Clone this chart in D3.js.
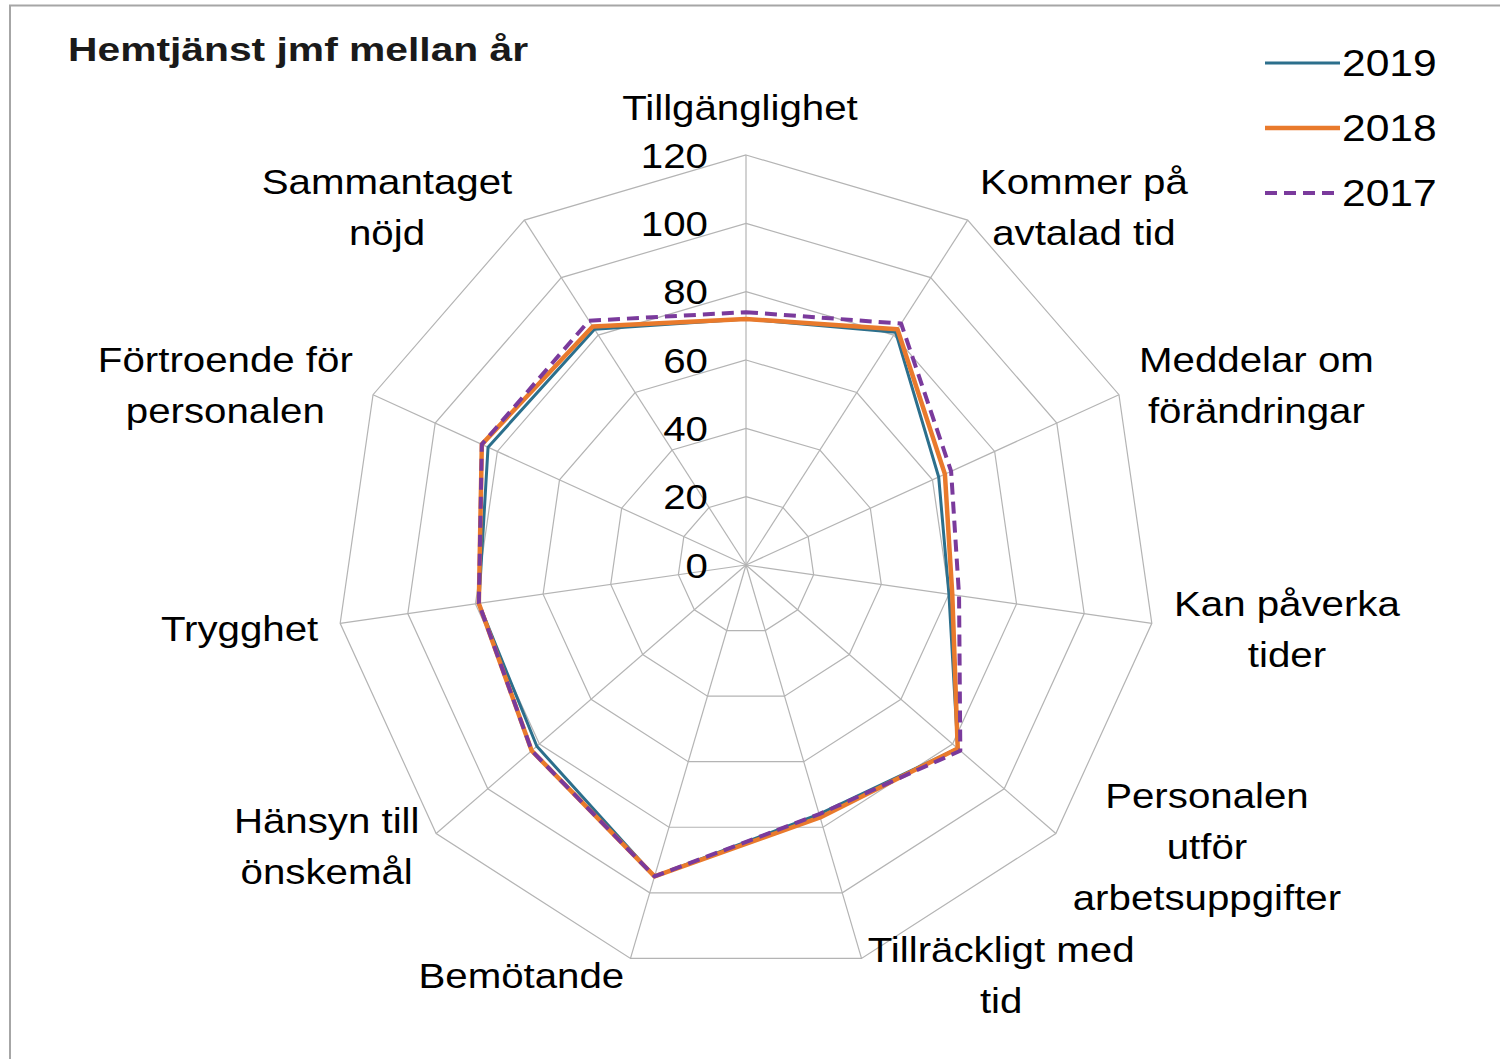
<!DOCTYPE html>
<html>
<head>
<meta charset="utf-8">
<script src="https://cdn.jsdelivr.net/npm/d3@7"></script>
<style>
  html, body { margin: 0; padding: 0; background: #fff; }
  svg text { font-family: "Liberation Sans", Arial, sans-serif; fill: #000; }
</style>
</head>
<body>
<div id="chart"></div>
<script>
const WIDTH = 1500, HEIGHT = 1059;
const CX = 746, CY = 565, RADIUS = 410; // plot centre and outer ring
const SX = 1.15; // the original's text renders wider than Liberation Sans

// categories, clockwise from the top
const categories = [
  "Tillgänglighet",
  "Kommer på|avtalad tid",
  "Meddelar om|förändringar",
  "Kan påverka|tider",
  "Personalen|utför|arbetsuppgifter",
  "Tillräckligt med|tid",
  "Bemötande",
  "Hänsyn till|önskemål",
  "Trygghet",
  "Förtroende för|personalen",
  "Sammantaget|nöjd"
];

const years = ["2019", "2018", "2017"];
const values2019 = [72, 81, 62, 60, 82, 76, 95, 81, 79, 83, 82];
const values2018 = [72, 82, 64, 61, 82, 77, 95, 83, 79, 85, 83];
const values2017 = [74, 84, 66, 63, 83, 76, 95, 83, 79, 85, 85];
const tickValues = [0, 20, 40, 60, 80, 100, 120];

const colors = {"2019": "#2c6f8c", "2018": "#e97a2c", "2017": "#7a3a9c"};
const widths = {"2019": 3, "2018": 4.5, "2017": 4};
const dashes = {"2019": null, "2018": null, "2017": "12,7"};

const r = d3.scaleLinear().domain([0, 120]).range([0, RADIUS]);
const angle = d3.scalePoint() // angle per category, clockwise from top
        .domain(d3.range(categories.length))
        .range([0, 2 * Math.PI * (categories.length - 1) / categories.length]);

const pt = (i, v) => [CX + r(v) * Math.sin(angle(i)), CY - r(v) * Math.cos(angle(i))];

const svg = d3.select("#chart").append("svg")
        .attr("width", WIDTH)
        .attr("height", HEIGHT);

// frame
svg.append("rect")
    .attr("x", 10).attr("y", 5.5)
    .attr("width", WIDTH).attr("height", HEIGHT)
    .attr("fill", "none")
    .attr("stroke", "#a6a6a6")
    .attr("stroke-width", 2);

const grid = svg.append("g").attr("class", "grid");

// rings
grid.selectAll(".ring")
    .data(tickValues.filter(d => d > 0))
    .enter().append("polygon")
    .attr("points", v => categories.map((c, i) => pt(i, v).join(",")).join(" "))
    .attr("fill", "none")
    .attr("stroke", "#b4b4b4")
    .attr("stroke-width", 1.2);

// spokes
grid.selectAll(".spoke")
    .data(categories)
    .enter().append("line")
    .attr("x1", CX).attr("y1", CY)
    .attr("x2", (d, i) => pt(i, 120)[0])
    .attr("y2", (d, i) => pt(i, 120)[1])
    .attr("stroke", "#b4b4b4")
    .attr("stroke-width", 1.2);

// tick labels along the top spoke
svg.append("g").selectAll("g")
    .data(tickValues)
    .enter().append("g")
    .attr("transform", d => `translate(${CX - 38},${CY - r(d)}) scale(${SX},1)`)
    .append("text")
    .attr("dy", "0.36em")
    .attr("text-anchor", "end")
    .style("font-size", "35px")
    .text(d => d);

// series, 2019 underneath, 2017 on top
const line = d3.lineRadial()
        .angle((d, i) => angle(i))
        .radius(d => r(d))
        .curve(d3.curveLinearClosed);

const seriesValues = {"2019": values2019, "2018": values2018, "2017": values2017};

svg.append("g")
    .attr("transform", `translate(${CX},${CY})`)
    .selectAll("path")
    .data(years)
    .enter().append("path")
    .attr("d", y => line(seriesValues[y]))
    .attr("fill", "none")
    .attr("stroke", y => colors[y])
    .attr("stroke-width", y => widths[y])
    .attr("stroke-dasharray", y => dashes[y])
    .attr("stroke-linejoin", "round");

// category labels, placed beside the spoke ends like Excel does
const LINE_H = 51;
const labels = svg.append("g").selectAll("g")
    .data(categories)
    .enter().append("g");

labels.each(function(d, i){
    const g = d3.select(this);
    const lines = d.split("|");
    const t = g.append("text")
        .attr("text-anchor", "middle")
        .style("font-size", "35px");
    lines.forEach((l, k) => {
        t.append("tspan").attr("x", 0).attr("y", k * LINE_H).text(l);
    });
    const w = t.node().getBBox().width * SX;
    const a = angle(i), s = Math.sin(a), c = Math.cos(a);
    const [ex, ey] = pt(i, 120);
    let cx, cy;
    const h = lines.length * LINE_H;
    if (Math.abs(s) < 0.01) { // top spoke
        cx = ex - 6;
        cy = ey - 22 - h / 2;
    } else {
        const gap = 22 * Math.abs(s);
        cx = s > 0 ? ex + gap + w / 2 : ex - gap - w / 2;
        cy = c > 0 ? ey - 6 - c * 8 : ey + 4 - c * 14;
    }
    const firstBase = cy - (lines.length - 1) * LINE_H / 2 + 12;
    g.attr("transform", `translate(${cx},${firstBase}) scale(${SX},1)`);
});

// title
svg.append("g")
    .attr("transform", "translate(68,61) scale(1.2,1)")
    .append("text")
    .style("font-size", "34px")
    .style("font-weight", "bold")
    .style("fill", "#1a1a1a")
    .text("Hemtjänst jmf mellan år");

// legend
const legend = svg.append("g").selectAll("g")
    .data(years)
    .enter().append("g")
    .attr("transform", (d, i) => `translate(1265,${63 + i * 65})`);

legend.append("line")
    .attr("x1", 0).attr("x2", 75)
    .attr("stroke", d => colors[d])
    .attr("stroke-width", d => widths[d])
    .attr("stroke-dasharray", d => dashes[d]);

legend.append("g")
    .attr("transform", `translate(77,0) scale(${SX},1)`)
    .append("text")
    .attr("dy", "0.36em")
    .style("font-size", "37px")
    .text(d => d);
</script>
</body>
</html>
